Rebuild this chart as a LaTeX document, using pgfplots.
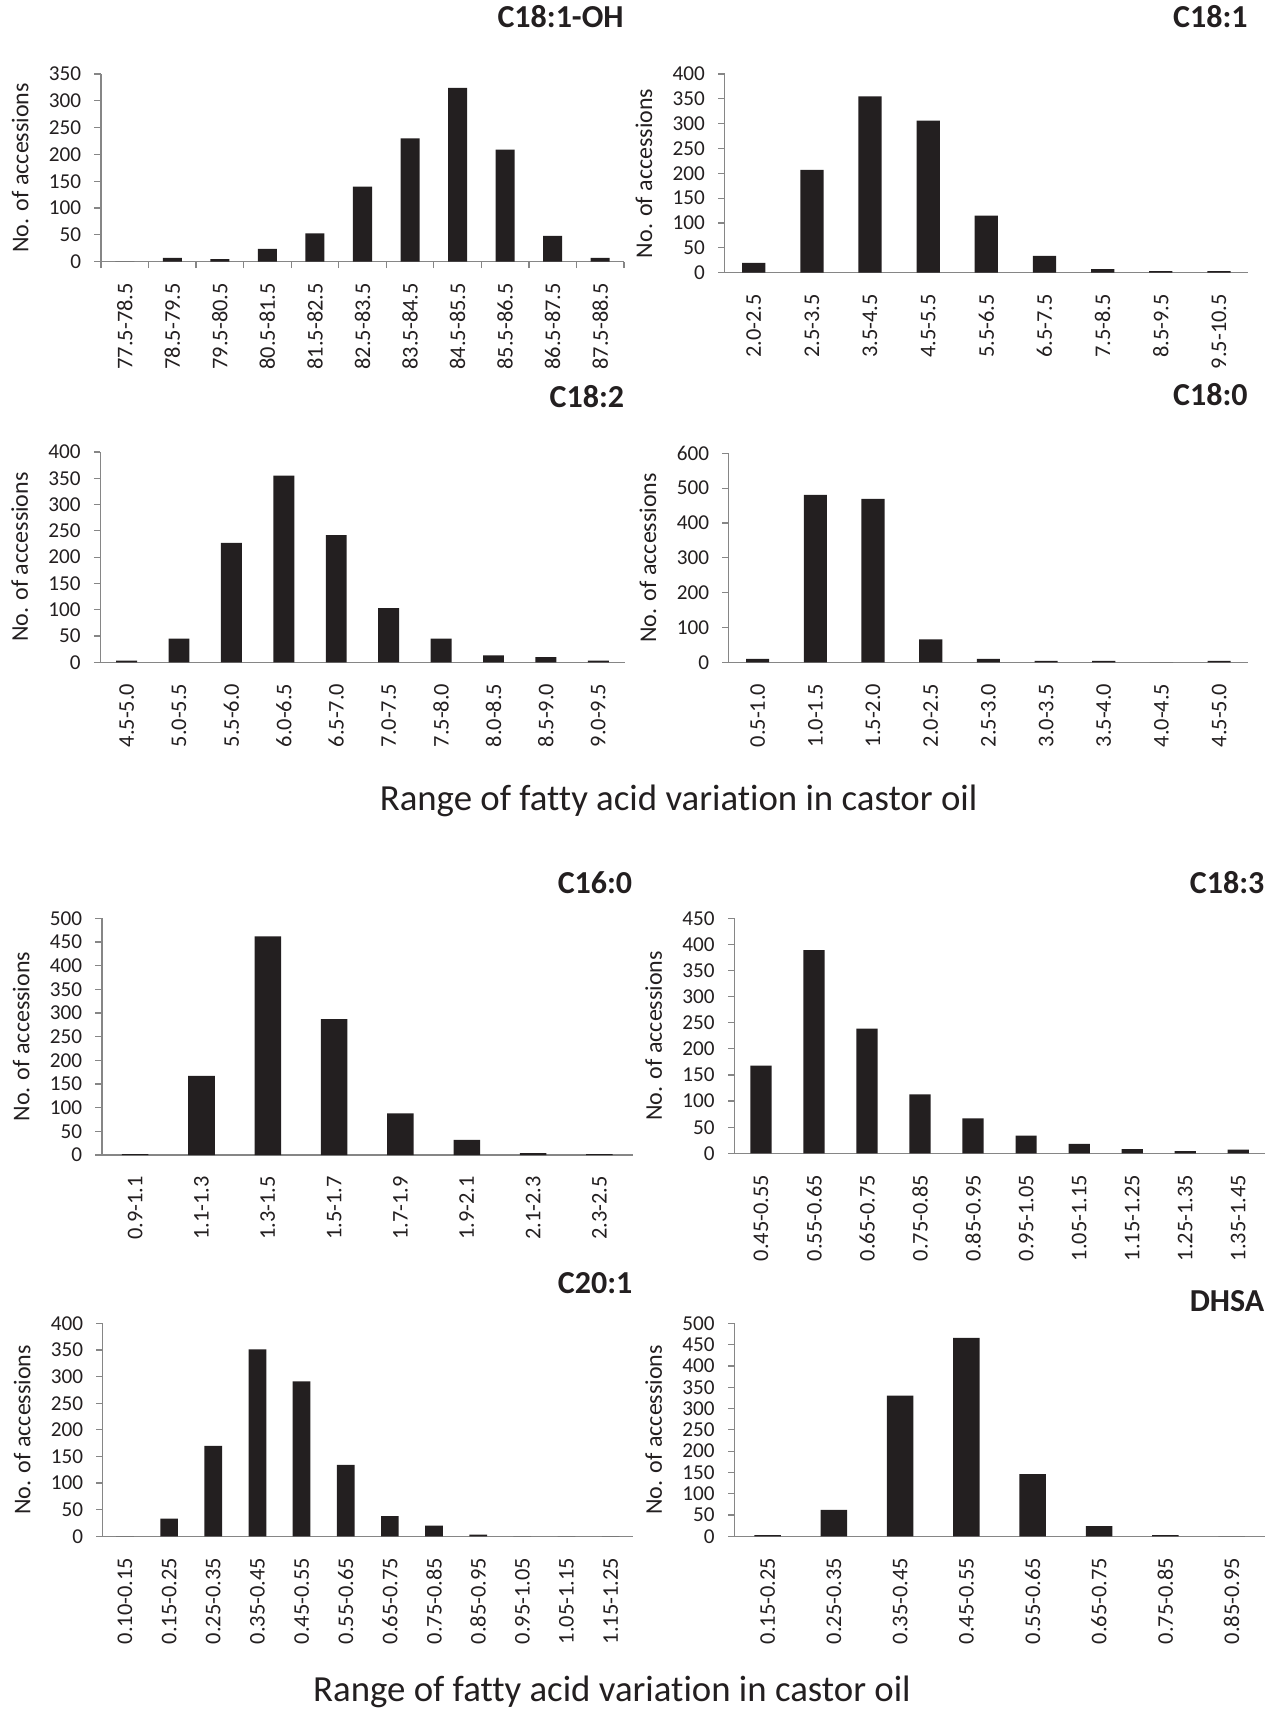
\documentclass[border=0pt]{standalone}
\usepackage{fontspec}
\setmainfont{Carlito}[Ligatures=NoCommon]
\usepackage{pgfplots}
\pgfplotsset{compat=1.18}
\definecolor{txt}{HTML}{231F20}
\definecolor{axg}{HTML}{868686}
\definecolor{barc}{HTML}{231F20}
\newcommand\tks{\fontsize{10.6}{12}\selectfont}
\newcommand\xtks{\fontsize{11.2}{13}\selectfont}
\newcommand\lab{\fontsize{12}{14}\selectfont}
\newcommand\ttl{\fontsize{16}{18}\selectfont\bfseries}
\newcommand\suplab{\fontsize{18.4}{21}\selectfont}
\pgfplotsset{
 panel/.style={
  scale only axis, anchor=south west,
  ybar, bar width=0.4,
  ymin=0, xmin=-0.5,
  axis x line*=bottom, axis y line*=left,
  axis line style={draw=axg, line width=0.6pt, -},
  tick align=outside, major tick length=3.25pt,
  tick style={draw=axg, line width=0.6pt},
  xtick style={draw=none},
  xticklabel style={rotate=90, anchor=east, font=\xtks, text=txt, inner sep=0pt},
  yticklabel style={font=\tks, text=txt, inner sep=0pt},
  xticklabel shift=7.25pt,
  yticklabel shift=6.45pt,
  ylabel={No. of accessions},
  ylabel style={font=\lab, text=txt, inner sep=0pt},
  ylabel shift=10pt,
  title style={at={(axis description cs:1,1)}, anchor=east, font=\ttl, text=txt, inner sep=0pt},
  /pgf/number format/assume math mode=true,
 },
 bars/.style={fill=barc, draw=none},
}
\begin{document}
\begin{tikzpicture}
\useasboundingbox (0,0) rectangle (634.5pt,-854.5pt);
% C18:1-OH
\begin{axis}[panel, at={(50.5pt,-130.85pt)}, width=261.5pt, height=93.85pt,
  xmax=10.5, ymax=350, ytick={0,50,...,350},
  x tick label as interval, xtick={-0.5,0.5,...,10.5},
  xtick style={draw=axg, line width=0.6pt},
  xticklabels={77.5-78.5,78.5-79.5,79.5-80.5,80.5-81.5,81.5-82.5,82.5-83.5,83.5-84.5,84.5-85.5,85.5-86.5,86.5-87.5,87.5-88.5},
  title={C18:1-OH}, title style={yshift=22.85pt}]
\addplot[bars] coordinates {(0,0) (1,7) (2,5) (3,24) (4,53) (5,140) (6,230) (7,324) (8,209) (9,48) (10,7)};
\end{axis}
% C18:1
\begin{axis}[panel, at={(362.35pt,-136.35pt)}, width=261.65pt, height=99.35pt,
  xmax=8.5, ymax=400, ytick={0,50,...,400},
  xtick={0,...,8},
  xticklabels={2.0-2.5,2.5-3.5,3.5-4.5,4.5-5.5,5.5-6.5,6.5-7.5,7.5-8.5,8.5-9.5,9.5-10.5},
  title={C18:1}, title style={yshift=22.85pt}]
\addplot[bars] coordinates {(0,20) (1,207) (2,355) (3,306) (4,115) (5,34) (6,7) (7,3) (8,3)};
\end{axis}
% C18:2
\begin{axis}[panel, at={(50.2pt,-331.15pt)}, width=262.05pt, height=105.15pt,
  xmax=9.5, ymax=400, ytick={0,50,...,400},
  xtick={0,...,9},
  xticklabels={4.5-5.0,5.0-5.5,5.5-6.0,6.0-6.5,6.5-7.0,7.0-7.5,7.5-8.0,8.0-8.5,8.5-9.0,9.0-9.5},
  title={C18:2}, title style={yshift=21.85pt}]
\addplot[bars] coordinates {(0,3) (1,45) (2,227) (3,355) (4,242) (5,103) (6,45) (7,13) (8,10) (9,3)};
\end{axis}
% C18:0
\begin{axis}[panel, at={(364.4pt,-331.15pt)}, width=259.6pt, height=104.5pt,
  xmax=8.5, ymax=600, ytick={0,100,...,600},
  xtick={0,...,8},
  xticklabels={0.5-1.0,1.0-1.5,1.5-2.0,2.0-2.5,2.5-3.0,3.0-3.5,3.5-4.0,4.0-4.5,4.5-5.0},
  title={C18:0}, title style={yshift=23.3pt}]
\addplot[bars] coordinates {(0,10) (1,481) (2,469) (3,66) (4,10) (5,4) (6,4) (7,0) (8,4)};
\end{axis}
% C16:0
\begin{axis}[panel, at={(51pt,-577.5pt)}, width=265.3pt, height=118.35pt,
  xmax=7.5, ymax=500, ytick={0,50,...,500},
  xtick={0,...,7},
  xticklabels={0.9-1.1,1.1-1.3,1.3-1.5,1.5-1.7,1.7-1.9,1.9-2.1,2.1-2.3,2.3-2.5},
  title={C16:0}, title style={yshift=11.65pt}]
\addplot[bars] coordinates {(0,2) (1,167) (2,462) (3,287) (4,88) (5,32) (6,4) (7,2)};
\end{axis}
% C18:3
\begin{axis}[panel, at={(367.25pt,-576.65pt)}, width=265.1pt, height=117.5pt,
  xmax=9.5, ymax=450, ytick={0,50,...,450},
  xtick={0,...,9},
  xticklabels={0.45-0.55,0.55-0.65,0.65-0.75,0.75-0.85,0.85-0.95,0.95-1.05,1.05-1.15,1.15-1.25,1.25-1.35,1.35-1.45},
  title={C18:3}, title style={yshift=11.65pt}]
\addplot[bars] coordinates {(0,168) (1,389) (2,239) (3,113) (4,67) (5,34) (6,18) (7,8) (8,4) (9,7)};
\end{axis}
% C20:1
\begin{axis}[panel, at={(51.45pt,-768.15pt)}, width=264.9pt, height=106.5pt,
  xmax=11.5, ymax=400, ytick={0,50,...,400},
  xtick={0,...,11},
  xticklabels={0.10-0.15,0.15-0.25,0.25-0.35,0.35-0.45,0.45-0.55,0.55-0.65,0.65-0.75,0.75-0.85,0.85-0.95,0.95-1.05,1.05-1.15,1.15-1.25},
  title={C20:1}, title style={yshift=14.15pt}]
\addplot[bars] coordinates {(0,0) (1,33) (2,170) (3,351) (4,291) (5,134) (6,38) (7,20) (8,3) (9,0) (10,0) (11,0)};
\end{axis}
% DHSA
\begin{axis}[panel, at={(367.25pt,-768.15pt)}, width=265.1pt, height=106.5pt,
  xmax=7.5, ymax=500, ytick={0,50,...,500},
  xtick={0,...,7},
  xticklabels={0.15-0.25,0.25-0.35,0.35-0.45,0.45-0.55,0.55-0.65,0.65-0.75,0.75-0.85,0.85-0.95},
  title={DHSA}, title style={yshift=5pt}]
\addplot[bars] coordinates {(0,3) (1,62) (2,330) (3,466) (4,146) (5,24) (6,3) (7,0)};
\end{axis}
\node[font=\suplab, text=txt] at (339.3pt,-400.5pt) {Range of fatty acid variation in castor oil};
\node[font=\suplab, text=txt] at (306pt,-846pt) {Range of fatty acid variation in castor oil};
\end{tikzpicture}
\end{document}
